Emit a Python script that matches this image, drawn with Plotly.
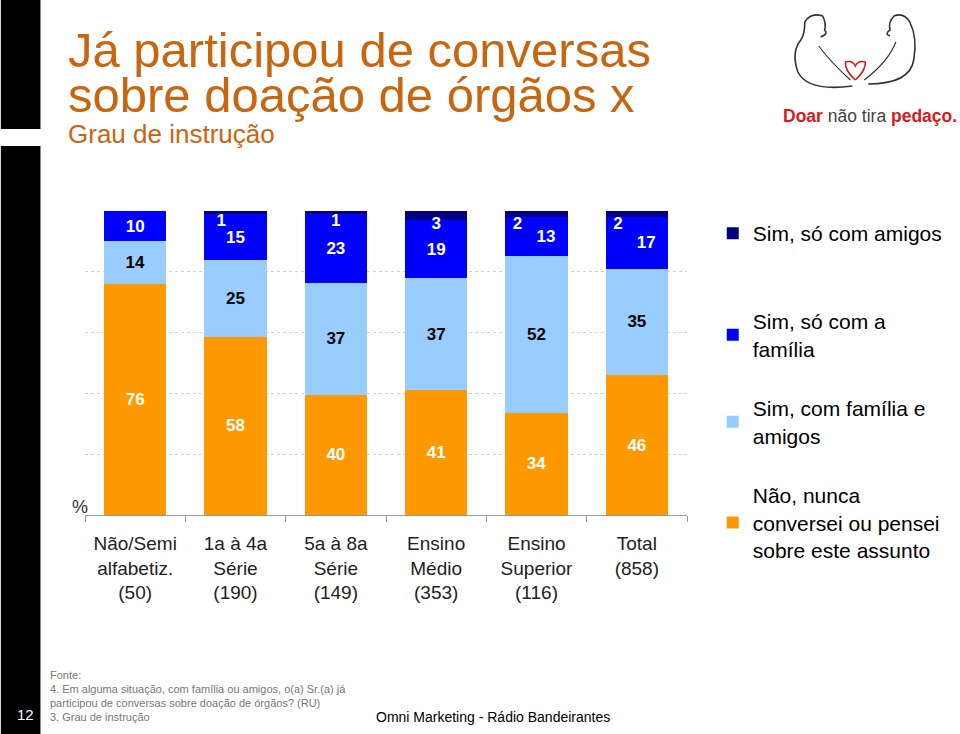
import plotly.graph_objects as go

categories = ["Não/Semi<br>alfabetiz.<br>(50)", "1a à 4a<br>Série<br>(190)", "5a à 8a<br>Série<br>(149)",
              "Ensino<br>Médio<br>(353)", "Ensino<br>Superior<br>(116)", "Total<br>(858)"]
nao_nunca = [76, 58, 40, 41, 34, 46]
familia_amigos = [14, 25, 37, 37, 52, 35]
so_familia = [10, 15, 23, 19, 13, 17]
so_amigos = [0, 1, 1, 3, 2, 2]

series_names = ["Não, nunca<br>conversei ou pensei<br>sobre este assunto",
                "Sim, com família e<br>amigos",
                "Sim, só com a<br>família",
                "Sim, só com amigos"]
series_colors = ["#FF9900", "#99CCFF", "#0000FF", "#000080"]
label_colors = ["white", "black", "white", "white"]

W, H = 960, 734
L, R, T, B = 85, 693, 211, 515


def px(x):
    return (x - L) / (R - L)


def py(y):
    return (B - y) / (B - T)


FS = "\u2007"  # figure space used to nudge crowded labels sideways, as in the original slide
# label nudges (in figure-space units): negative = left, positive = right
dark_nudge = [0, -3, 0, 0, -4, -4]
blue_nudge = [0, 0, 0, 0, 2, 2]


def fmt(v, n=0):
    if not v:
        return ""
    s = str(v)
    if n < 0:
        return s + FS * (-n)
    return FS * n + s


texts = [
    [fmt(v) for v in nao_nunca],
    [fmt(v) for v in familia_amigos],
    [fmt(v, n) for v, n in zip(so_familia, blue_nudge)],
    [fmt(v, n) for v, n in zip(so_amigos, dark_nudge)],
]

fig = go.Figure()
all_series = [nao_nunca, familia_amigos, so_familia, so_amigos]
legend_ids = ["legend4", "legend3", "legend2", "legend"]
anchors = ["middle", "middle", "middle", "end"]
for vals, txt, name, col, lcol, lg, anc in zip(all_series, texts, series_names, series_colors,
                                                label_colors, legend_ids, anchors):
    fig.add_trace(go.Bar(
        x=categories, y=vals, name=name, marker=dict(color=col, line=dict(width=0)),
        text=txt, textposition="inside", textangle=0,
        insidetextanchor=anc,
        textfont=dict(family="Liberation Sans, Arial", size=17, color=lcol, weight="bold"),
        legend=lg, hoverinfo="skip"))

legend_font = dict(family="Liberation Sans, Arial", size=21, color="black")
leg_common = dict(font=legend_font, bgcolor="rgba(0,0,0,0)", xanchor="left", yanchor="top",
                  itemwidth=30, tracegroupgap=0)
legend_tops = {"legend": 213, "legend2": 301, "legend3": 388, "legend4": 475}

layout_legends = {}
for k, top in legend_tops.items():
    layout_legends[k] = dict(x=px(719), y=py(top), **leg_common)

fig.update_layout(
    width=W, height=H, barmode="stack", barnorm="percent", bargap=0.38,
    margin=dict(l=L, r=W - R, t=T, b=H - B),
    plot_bgcolor="white", paper_bgcolor="white",
    showlegend=True,
    uniformtext=dict(mode="show", minsize=17),
    font=dict(family="Liberation Sans, Arial"),
    **layout_legends,
)
fig.update_xaxes(showline=True, linecolor="#999999", linewidth=1,
                 ticks="outside", tickson="boundaries", ticklen=6, tickcolor="#999999",
                 tickfont=dict(size=19, color="#222222", family="Liberation Sans, Arial"),
                 ticklabelstandoff=11, fixedrange=True)
fig.update_yaxes(range=[0, 100], dtick=20, showticklabels=False, showgrid=True,
                 gridcolor="#d0d0d0", griddash="dot", gridwidth=1, zeroline=False, fixedrange=True)

ann = []
title_col = "#C8650F"
ann.append(dict(text="Já participou de conversas", x=px(66), y=py(50), xanchor="left", yanchor="middle",
                font=dict(size=49, color=title_col)))
ann.append(dict(text="sobre doação de órgãos x", x=px(66), y=py(95), xanchor="left", yanchor="middle",
                font=dict(size=49, color=title_col)))
ann.append(dict(text="Grau de instrução", x=px(66), y=py(134), xanchor="left", yanchor="middle",
                font=dict(size=26, color=title_col)))
ann.append(dict(text="%", x=px(90), y=py(507), xanchor="right", yanchor="middle",
                font=dict(size=18, color="#333333")))
foot = ["Fonte:", "4. Em alguma situação, com família ou amigos, o(a) Sr.(a) já",
        "participou de conversas sobre doação de órgãos? (RU)", "3. Grau de instrução"]
for i, t in enumerate(foot):
    ann.append(dict(text=t, x=px(48), y=py(675 + 14 * i), xanchor="left", yanchor="middle",
                    font=dict(size=11, color="#777777")))
ann.append(dict(text="Omni Marketing - Rádio Bandeirantes", x=px(377), y=py(717), xanchor="left",
                yanchor="middle", font=dict(size=14, color="black")))
ann.append(dict(text="12", x=px(25), y=py(714), xanchor="center", yanchor="middle",
                font=dict(size=15, color="white")))
ann.append(dict(text="<b><span style='color:#D7191C'>Doar</span></b> <span style='color:#444444'>não tira</span> "
                     "<b><span style='color:#D7191C'>pedaço.</span></b>",
                x=px(878), y=py(116), xanchor="center", yanchor="middle",
                font=dict(size=17.5, color="#444444", family="Liberation Sans, Arial")))
for a in ann:
    a.update(xref="paper", yref="paper", showarrow=False)
fig.update_layout(annotations=ann)


def curve(pts):
    # quadratic bezier chain: pts = [p0, c1, p1, c2, p2, ...]
    s = f"M {px(pts[0][0]):.4f},{py(pts[0][1]):.4f}"
    for i in range(1, len(pts) - 1, 2):
        c, p = pts[i], pts[i + 1]
        s += f" Q {px(c[0]):.4f},{py(c[1]):.4f} {px(p[0]):.4f},{py(p[1]):.4f}"
    return s


shapes = []
shapes.append(dict(type="rect", x0=px(0), x1=px(40), y0=py(0), y1=py(129), fillcolor="black", line_width=0))
shapes.append(dict(type="rect", x0=px(0), x1=px(40), y0=py(146), y1=py(734), fillcolor="black", line_width=0))
# logo outline figures
left_fig = [(860, 86), (815, 92), (805, 72), (798, 52), (808, 40), (812, 34), (812, 22),
            (818, 12), (830, 16), (834, 24), (832, 30), (836, 34), (828, 37)]
right_fig = [(876, 84), (918, 84), (922, 60), (926, 38), (918, 22), (912, 12), (902, 16),
             (896, 22), (898, 30), (892, 34), (898, 36)]
for f in (left_fig, right_fig):
    shapes.append(dict(type="path", path=curve(f), line=dict(color="#333333", width=1.6)))
shapes.append(dict(type="path", path=curve([(826, 46), (838, 62), (858, 80)]), line=dict(color="#333333", width=1.2)))
shapes.append(dict(type="path", path=curve([(904, 42), (896, 62), (872, 80)]), line=dict(color="#333333", width=1.2)))
heart = [(863, 80), (852, 70), (853, 62), (860, 60), (863, 66), (866, 60), (873, 62), (874, 70), (863, 80)]
shapes.append(dict(type="path", path=curve(heart), line=dict(color="#D7191C", width=1.6)))
for s in shapes:
    s.update(xref="paper", yref="paper", layer="above")
fig.update_layout(shapes=shapes)

fig.write_html("out.html", config={"displayModeBar": False},
               post_script="document.body.style.margin='0';")
